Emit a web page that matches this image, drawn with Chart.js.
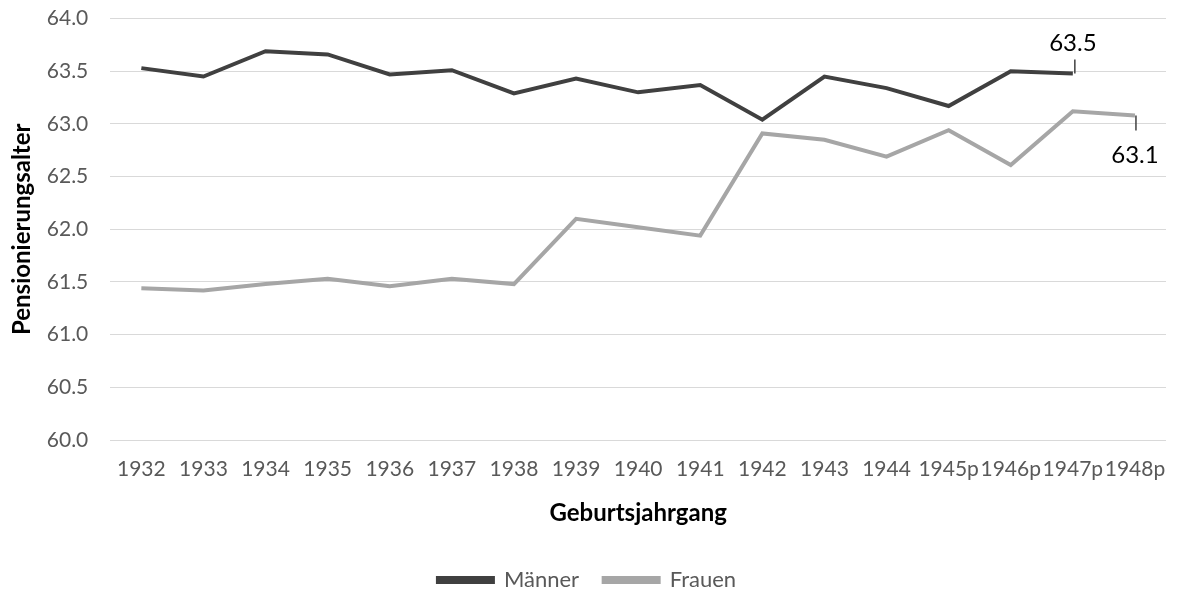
<!DOCTYPE html>
<html>
<head>
<meta charset="utf-8">
<script src="https://cdn.jsdelivr.net/npm/chart.js@4.4.1/dist/chart.umd.min.js"></script>
<style>
  html, body { margin: 0; padding: 0; background: #fff; }
  #wrap { width: 1178px; height: 594px; }
</style>
</head>
<body>
<div id="wrap"><canvas id="chart"></canvas></div>
<script>
const jahrgaenge = ["1932", "1933", "1934", "1935", "1936", "1937", "1938", "1939", "1940",
  "1941", "1942", "1943", "1944", "1945p", "1946p", "1947p", "1948p"];
const maenner = [63.53, 63.45, 63.69, 63.66, 63.47, 63.51, 63.29, 63.43, 63.30,
  63.37, 63.04, 63.45, 63.34, 63.17, 63.50, 63.48, null];
const frauen = [61.44, 61.42, 61.48, 61.53, 61.46, 61.53, 61.48, 62.10, 62.02,
  61.94, 62.91, 62.85, 62.69, 62.94, 62.61, 63.12, 63.08];

// labels at the end of each line, with a short leader line
const endLabels = {
  id: "endLabels",
  afterDatasetsDraw(chart) {
    const ctx = chart.ctx;
    ctx.save();
    ctx.font = "24px Lato, sans-serif";
    ctx.fillStyle = "#000";
    ctx.strokeStyle = "#404040";
    ctx.lineWidth = 1.5;
    ctx.textAlign = "center";

    // Männer: last value, label above
    const m = chart.getDatasetMeta(0).data[15];
    ctx.beginPath();
    ctx.moveTo(m.x + 2, m.y);
    ctx.lineTo(m.x + 2, m.y - 14);
    ctx.stroke();
    ctx.textBaseline = "middle";
    ctx.fillText(maenner[15].toFixed(1), m.x, m.y - 30);

    // Frauen: last value, label below
    const f = chart.getDatasetMeta(1).data[16];
    ctx.beginPath();
    ctx.moveTo(f.x + 1, f.y);
    ctx.lineTo(f.x + 1, f.y + 15);
    ctx.stroke();
    ctx.fillText(frauen[16].toFixed(1), f.x, f.y + 40);
    ctx.restore();
  }
};

new Chart(document.getElementById("chart"), {
  type: "line",
  data: {
    labels: jahrgaenge,
    datasets: [
      {
        label: "Männer",
        data: maenner,
        borderColor: "#404040",
        backgroundColor: "#404040",
        borderWidth: 4,
        pointRadius: 0,
        tension: 0,
      },
      {
        label: "Frauen",
        data: frauen,
        borderColor: "#a6a6a6",
        backgroundColor: "#a6a6a6",
        borderWidth: 4,
        pointRadius: 0,
        tension: 0,
      },
    ],
  },
  options: {
    responsive: true,
    maintainAspectRatio: false,
    animation: false,
    layout: { padding: { left: 8, right: 12, top: 0, bottom: -7 } },
    plugins: {
      tooltip: { enabled: false },
      legend: {
        position: "bottom",
        labels: {
          boxWidth: 55,
          boxHeight: 4,
          color: "#595959",
          font: { family: "Lato, sans-serif", size: 22 },
          padding: 2,
          // extra room between the two entries
          generateLabels(chart) {
            const items = Chart.defaults.plugins.legend.labels.generateLabels(chart);
            items[0].text += "    ";
            return items;
          },
        },
      },
    },
    scales: {
      x: {
        offset: true,
        grid: { display: false },
        border: { display: false },
        ticks: {
          color: "#595959",
          font: { family: "Lato, sans-serif", size: 21 },
          maxRotation: 0,
          autoSkip: false,
          padding: 9,
        },
        title: {
          display: true,
          text: "Geburtsjahrgang",
          color: "#000",
          font: { family: "Lato, sans-serif", size: 24, weight: "bold" },
          padding: { top: 8, bottom: 39 },
        },
      },
      y: {
        min: 60,
        max: 64,
        grid: {
          color: "#d9d9d9",
          lineWidth: 1,
          drawTicks: true,
          tickLength: 16,
          tickColor: "rgba(0,0,0,0)",
        },
        border: { display: false },
        ticks: {
          stepSize: 0.5,
          color: "#595959",
          font: { family: "Lato, sans-serif", size: 21 },
          padding: 6,
          callback: (v) => v.toFixed(1),
        },
        title: {
          display: true,
          text: "Pensionierungsalter",
          color: "#000",
          font: { family: "Lato, sans-serif", size: 24, weight: "bold" },
          padding: { top: 0, bottom: 4 },
        },
      },
    },
  },
  plugins: [endLabels],
});
</script>
</body>
</html>
